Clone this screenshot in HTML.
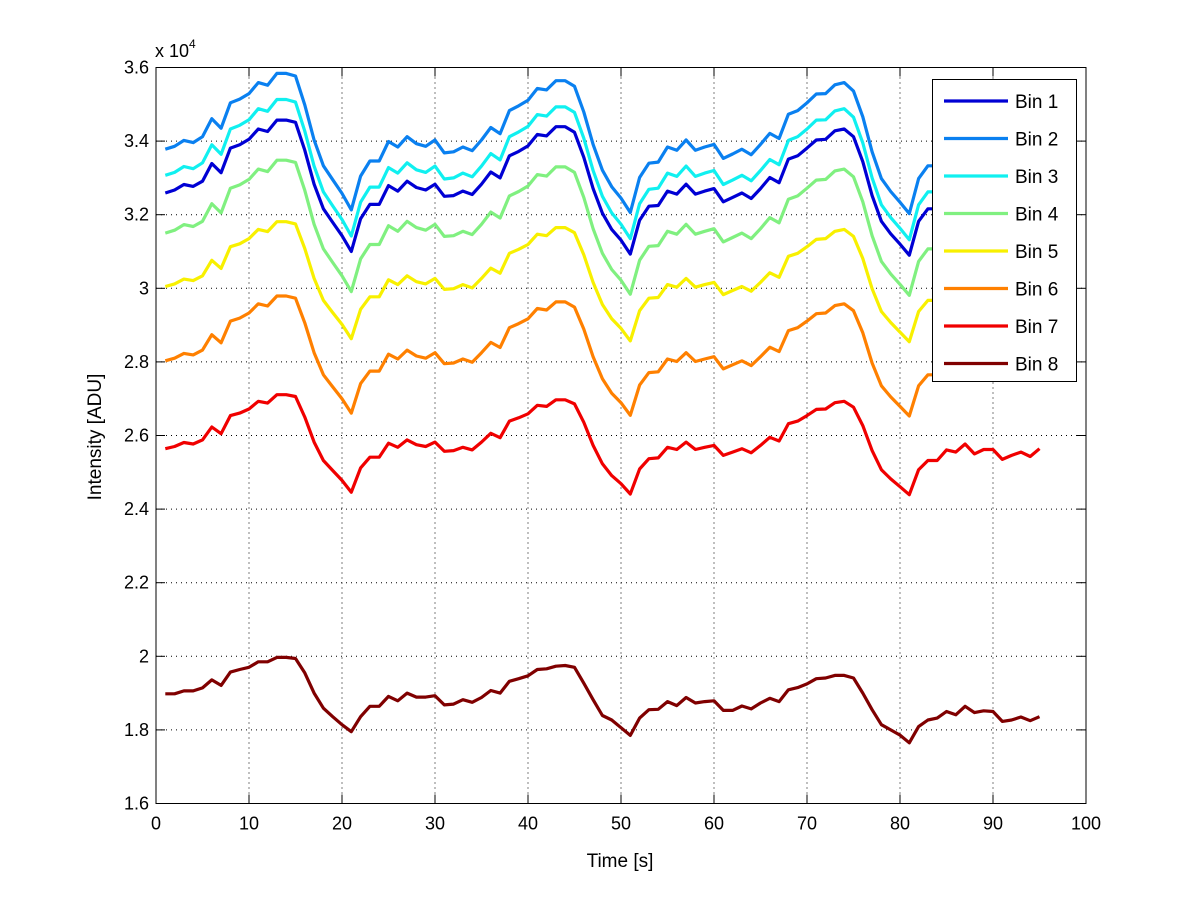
<!DOCTYPE html>
<html><head><meta charset="utf-8"><style>
body{margin:0;background:#fff;}
svg text{font-family:"Liberation Sans",sans-serif;fill:#000;}
</style></head><body>
<svg id="chart" width="1200" height="901" viewBox="0 0 1200 901" xmlns="http://www.w3.org/2000/svg">
<rect x="0" y="0" width="1200" height="901" fill="#fff"/>
<g id="grid"></g>
<g id="series"></g>
<g id="axes"></g>
<g id="legend"></g>
<text x="155" y="57" font-size="18">x 10<tspan dy="-9" font-size="12">4</tspan></text>
<text x="620" y="867" font-size="19" text-anchor="middle">Time [s]</text>
<text x="0" y="0" font-size="19" text-anchor="middle" transform="translate(101,437) rotate(-90)">Intensity [ADU]</text>
</svg>
<script>
const xTicks=[0,10,20,30,40,50,60,70,80,90,100];
const yTicks=[1.6,1.8,2.0,2.2,2.4,2.6,2.8,3.0,3.2,3.4,3.6];
const yTickLabels=["1.6","1.8","2","2.2","2.4","2.6","2.8","3","3.2","3.4","3.6"];
const seriesNames=["Bin 1","Bin 2","Bin 3","Bin 4","Bin 5","Bin 6","Bin 7","Bin 8"];
const seriesColors=["#0000d4","#0a80f0","#10f0f0","#80f080","#f8f000","#ff8000","#f00000","#800000"];
const bin1=[3259,3267,3282,3277,3291,3339,3314,3381,3390,3405,3433,3426,3457,3457,3451,3375,3283,3216,3179,3143,3100,3189,3228,3228,3279,3264,3291,3274,3267,3283,3250,3252,3264,3255,3283,3316,3300,3360,3372,3387,3418,3414,3439,3439,3424,3356,3271,3204,3160,3131,3093,3185,3223,3225,3264,3256,3283,3256,3264,3271,3235,3247,3259,3244,3271,3301,3287,3351,3360,3381,3403,3405,3428,3433,3412,3344,3252,3182,3148,3120,3090,3182,3216,3216,3255,3247,3277,3240,3256,3256,3220,3235,3247,3231,3259];
const bin2=[3378,3386,3402,3396,3412,3461,3435,3504,3514,3529,3559,3552,3584,3584,3577,3498,3403,3333,3295,3258,3213,3305,3346,3346,3399,3384,3412,3393,3386,3403,3368,3371,3384,3374,3403,3437,3420,3483,3496,3511,3543,3539,3564,3564,3549,3479,3391,3321,3276,3245,3206,3301,3340,3343,3384,3375,3403,3375,3384,3391,3353,3365,3378,3363,3391,3421,3407,3473,3483,3504,3528,3529,3553,3559,3536,3466,3371,3298,3263,3234,3203,3298,3333,3333,3374,3365,3396,3358,3375,3375,3337,3353,3365,3349,3378];
const bin3=[3307,3315,3331,3325,3341,3390,3364,3433,3443,3458,3488,3481,3513,3513,3506,3427,3332,3262,3224,3187,3142,3234,3275,3275,3328,3313,3341,3322,3315,3332,3297,3300,3313,3303,3332,3366,3349,3412,3425,3440,3472,3468,3493,3493,3478,3408,3320,3250,3205,3174,3135,3230,3269,3272,3313,3304,3332,3304,3313,3320,3282,3294,3307,3292,3320,3350,3336,3402,3412,3433,3457,3458,3482,3488,3465,3395,3300,3227,3192,3163,3132,3227,3262,3262,3303,3294,3325,3287,3304,3304,3266,3282,3294,3278,3307];
const bin4=[3150,3158,3173,3168,3182,3230,3205,3272,3281,3296,3324,3317,3348,3348,3342,3266,3174,3107,3070,3034,2991,3080,3119,3119,3170,3155,3182,3165,3158,3174,3141,3143,3155,3146,3174,3207,3191,3251,3263,3278,3309,3305,3330,3330,3315,3247,3162,3095,3051,3022,2984,3076,3114,3116,3155,3147,3174,3147,3155,3162,3126,3138,3150,3135,3162,3192,3178,3242,3251,3272,3294,3296,3319,3324,3303,3235,3143,3073,3039,3011,2981,3073,3107,3107,3146,3138,3168,3131,3147,3147,3111,3126,3138,3122,3150];
const bin5=[3005,3012,3025,3021,3034,3076,3054,3113,3121,3135,3160,3154,3181,3181,3175,3108,3027,2967,2934,2902,2863,2943,2977,2977,3023,3010,3034,3018,3012,3027,2997,2999,3010,3001,3027,3055,3041,3095,3106,3119,3147,3143,3165,3165,3151,3091,3016,2956,2917,2891,2857,2939,2973,2975,3010,3003,3027,3003,3010,3016,2983,2994,3005,2992,3016,3042,3030,3087,3095,3113,3133,3135,3155,3160,3141,3081,2999,2937,2907,2881,2855,2937,2967,2967,3001,2994,3021,2988,3003,3003,2970,2983,2994,2980,3005];
const bin6=[2803,2810,2823,2819,2832,2874,2852,2911,2919,2933,2958,2952,2979,2979,2973,2906,2825,2765,2732,2700,2661,2741,2775,2775,2821,2808,2832,2816,2810,2825,2795,2797,2808,2799,2825,2853,2839,2893,2904,2917,2945,2941,2963,2963,2949,2889,2814,2754,2715,2689,2655,2737,2771,2773,2808,2801,2825,2801,2808,2814,2781,2792,2803,2790,2814,2840,2828,2885,2893,2911,2931,2933,2953,2958,2939,2879,2797,2735,2705,2679,2653,2735,2765,2765,2799,2792,2819,2786,2801,2801,2768,2781,2792,2778,2803];
const bin7=[2564,2570,2581,2577,2588,2623,2605,2654,2661,2672,2693,2688,2711,2711,2706,2650,2582,2532,2505,2478,2446,2512,2541,2541,2579,2568,2588,2575,2570,2582,2557,2559,2568,2561,2582,2606,2594,2639,2648,2659,2682,2679,2697,2697,2686,2636,2573,2523,2491,2469,2441,2509,2537,2539,2568,2562,2582,2562,2568,2573,2546,2555,2564,2553,2573,2595,2585,2632,2639,2654,2671,2672,2689,2693,2677,2627,2559,2507,2482,2461,2439,2507,2532,2532,2561,2555,2577,2550,2562,2562,2535,2546,2555,2543,2564];
const bin8=[1898,1898,1906,1906,1914,1936,1921,1957,1964,1970,1985,1985,1997,1997,1994,1955,1900,1859,1836,1814,1795,1836,1864,1864,1891,1879,1900,1889,1889,1893,1868,1870,1882,1875,1888,1907,1900,1932,1939,1947,1964,1966,1973,1975,1970,1927,1882,1839,1827,1806,1785,1832,1855,1856,1877,1866,1888,1873,1877,1879,1853,1853,1865,1857,1873,1886,1877,1909,1915,1925,1939,1941,1948,1948,1941,1900,1855,1814,1800,1786,1765,1809,1827,1832,1850,1841,1864,1847,1852,1850,1823,1827,1835,1825,1836];
const seriesData=[bin1,bin2,bin3,bin4,bin5,bin6,bin7,bin8];

const X0=156,X1=1086,Y0=803.5,Y1=67.5;
const xs=t=>X0+(t-0)/(100-0)*(X1-X0);
const ys=v=>Y0-(v-1.6)/(3.6-1.6)*(Y0-Y1);
const NS="http://www.w3.org/2000/svg";
function mk(tag,attrs,parent){const e=document.createElementNS(NS,tag);for(const k in attrs)e.setAttribute(k,attrs[k]);parent.appendChild(e);return e;}
const grid=document.getElementById('grid'),axes=document.getElementById('axes'),ser=document.getElementById('series'),leg=document.getElementById('legend');

xTicks.forEach((t,i)=>{
  const x=xs(t);
  if(i>0&&i<xTicks.length-1){const g=mk('line',{x1:x,x2:x,y1:Y1,y2:Y0,stroke:'#000','stroke-width':1,'stroke-dasharray':'1,4'},grid);
  
  }
  mk('line',{x1:x,x2:x,y1:Y0,y2:Y0-9,stroke:'#000'},axes);
  mk('line',{x1:x,x2:x,y1:Y1,y2:Y1+9,stroke:'#000'},axes);
  const tx=mk('text',{x:x,y:Y0+26,'font-size':18,'text-anchor':'middle'},axes);
  tx.textContent=t;
  
  
});
yTicks.forEach((v,i)=>{
  const y=ys(v);
  if(i>0&&i<yTicks.length-1){const g=mk('line',{x1:X0,x2:X1,y1:y,y2:y,stroke:'#000','stroke-width':1,'stroke-dasharray':'1,4'},grid);
  
  }
  mk('line',{x1:X0,x2:X0+9,y1:y,y2:y,stroke:'#000'},axes);
  mk('line',{x1:X1,x2:X1-9,y1:y,y2:y,stroke:'#000'},axes);
  const tx=mk('text',{x:X0-7,y:y+6,'font-size':18,'text-anchor':'end'},axes);
  tx.textContent=yTickLabels[i];
  
  
});
const box=mk('rect',{x:X0,y:Y1,width:X1-X0,height:Y0-Y1,fill:'none',stroke:'#000','stroke-width':1},axes);



seriesData.forEach((arr,si)=>{
  const pts=arr.map((v,i)=>xs(i+1).toFixed(1)+','+ys(v/1000).toFixed(1)).join(' ');
  const pl=mk('polyline',{points:pts,fill:'none',stroke:seriesColors[si],'stroke-width':3.2,'stroke-linejoin':'round'},ser);
  
  
});

const lb=mk('rect',{x:932.5,y:79.5,width:144,height:302,fill:'#fff',stroke:'#000','stroke-width':1},leg);


seriesNames.forEach((n,i)=>{
  const y=101+i*37.5;
  const l=mk('line',{x1:944,x2:1008,y1:y,y2:y,stroke:seriesColors[i],'stroke-width':3.2},leg);
  
  
  const t=mk('text',{x:1015,y:y+7,'font-size':19},leg);
  t.textContent=n;
  
  
});
</script>
</body></html>
